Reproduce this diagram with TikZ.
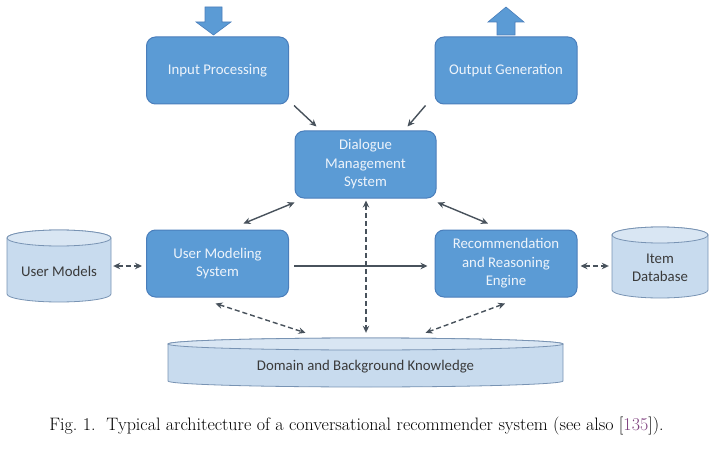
\documentclass[tikz,border=0pt]{standalone}
\usepackage{fontspec}
\newfontfamily\boxfont{Carlito}
\usetikzlibrary{arrows.meta,calc}
\definecolor{boxfill}{HTML}{5B9BD5}
\definecolor{boxline}{HTML}{4A7EBB}
\definecolor{boxtext}{HTML}{EEF4FB}
\definecolor{cylfill}{HTML}{C8DBEE}
\definecolor{cyltop}{HTML}{D9E6F3}
\definecolor{cylline}{HTML}{7893B3}
\definecolor{cyltext}{HTML}{3A3A3A}
\definecolor{arrcol}{HTML}{48525C}
\definecolor{citecol}{HTML}{7E3F7E}
\newcommand\mycyl[5]{%
  \draw[cylline, line width=0.8pt, fill=cylfill] (#1,#2+#5) -- (#1,#4-#5)
    arc[start angle=180, end angle=0, x radius={(#3-#1)/2}, y radius=#5]
    -- (#3,#2+#5)
    arc[start angle=0, end angle=-180, x radius={(#3-#1)/2}, y radius=#5] -- cycle;
  \draw[cylline, line width=0.8pt, fill=cyltop] ({(#1+#3)/2},#2+#5) ellipse[x radius={(#3-#1)/2}, y radius=#5];
}
\begin{document}
\begin{tikzpicture}[x=1pt,y=-1pt,
  blk/.style={draw=boxline, line width=1pt, fill=boxfill, rounded corners=9pt,
    minimum width=142pt, minimum height=67pt, align=center, text=boxtext,
    font=\boxfont\fontsize{14.8}{18.5}\selectfont, inner sep=0pt},
  cyl/.style={minimum width=#1, inner sep=0pt, align=center, text=cyltext,
    font=\boxfont\fontsize{14.8}{17.5}\selectfont},
  barrow/.style={fill=boxfill, draw=boxline, line width=0.6pt},
  arr/.style={draw=arrcol, line width=1.4pt, -{Stealth[length=7pt,width=6.5pt]}},
  darr/.style={draw=arrcol, line width=1.4pt, {Stealth[length=7pt,width=6.5pt]}-{Stealth[length=7pt,width=6.5pt]}},
  dsh/.style={dash pattern=on 5pt off 3pt}
]
\useasboundingbox (0,0) rectangle (719,449);

% cylinders
\mycyl{7}{230}{111}{302}{8}
\mycyl{612}{227}{708}{298}{8}
\mycyl{168}{338}{563}{387}{6}

% boxes
\node[blk] (ip) at (217.5,70.5) {Input Processing};
\node[blk] (og) at (506,70.5) {Output Generation};
\node[blk, minimum width=141pt] (dm) at (365.5,164.5) {Dialogue\\Management\\System};
\node[blk] (ums) at (217.5,263.5) {User Modeling\\System};
\node[blk] (rre) at (506,263.5) {Recommendation\\and Reasoning\\Engine};

% cylinder text nodes
\node[cyl=104pt, minimum height=64pt] (um) at (59,271) {User Models};
\node[cyl=96pt, minimum height=63pt] (idb) at (660,268) {Item\\Database};
\node[cyl=395pt, minimum height=41pt] (dk) at (365.5,367) {Domain and Background Knowledge};

% block arrows
\draw[barrow] (205,7) -- (222,7) -- (222,22) -- (231,22) -- (213.5,35) -- (196,22) -- (205,22) -- cycle;
\draw[barrow] (497,35) -- (515,35) -- (515,22) -- (524,22) -- (506,7) -- (488,22) -- (497,22) -- cycle;

% solid arrows
\draw[arr] ($(ip.south east)+(5,1)$) -- ($(dm.north west)+(22,-4)$);
\draw[arr] ($(og.south west)+(-9,1)$) -- ($(dm.north east)+(-29,-4)$);
\draw[darr] ($(ums.north)+(26,-6)$) -- ($(dm.south west)+(0,4)$);
\draw[darr] ($(dm.south east)+(1,4)$) -- ($(rre.north)+(-18,-6)$);
\draw[arr] ($(ums.east)+(5,2.5)$) -- ($(rre.west)+(-7,2.5)$);

% dashed arrows
\draw[darr, dsh] ($(dm.south)+(0.5,2)$) -- ($(dk.north)+(0.5,-13.5)$);
\draw[darr, dsh] ($(ums.south)+(-2,6)$) -- ($(dk.north)+(-60,-13.5)$);
\draw[darr, dsh] ($(rre.south)+(-1,6)$) -- ($(dk.north)+(60,-13.5)$);
\draw[darr, dsh] ($(um.east |- ums.west)+(2,2.5)$) -- ($(ums.west)+(-4,2.5)$);
\draw[darr, dsh] ($(rre.east)+(3,2.5)$) -- ($(idb.west |- rre.east)+(-3,2.5)$);

% caption
\node[anchor=base, font=\fontsize{18}{20}\selectfont, inner sep=0pt] (cap) at (356.5,430)
  {Fig.\ 1.\hspace{0.6em}Typical architecture of a conversational recommender system (see also [\textcolor{citecol}{135}]).};
\end{tikzpicture}
\end{document}
